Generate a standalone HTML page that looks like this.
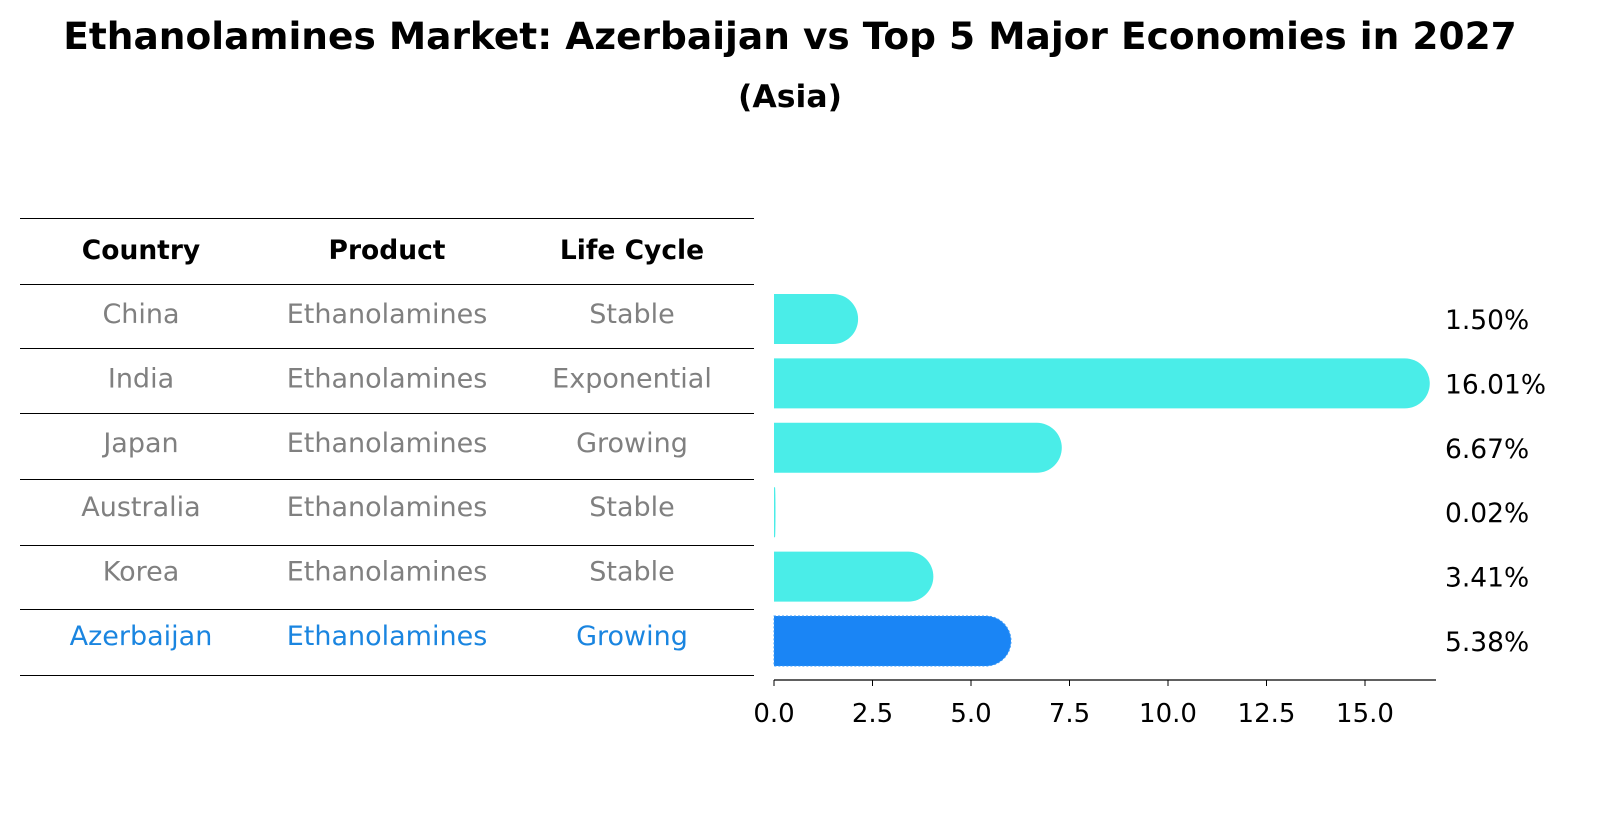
<!DOCTYPE html>
<html><head><meta charset="utf-8"><style>
body{margin:0;background:#fff;font-family:"Liberation Sans",sans-serif}
svg text{font-family:"DejaVu Sans","Liberation Sans",sans-serif}
</style></head><body>
<svg width="1604" height="823" xmlns="http://www.w3.org/2000/svg">
<text x="790" y="49" text-anchor="middle" font-size="37.5" font-weight="bold">Ethanolamines Market: Azerbaijan vs Top 5 Major Economies in 2027</text>
<text x="790" y="107" text-anchor="middle" font-size="31.5" font-weight="bold">(Asia)</text>
<g id="table"></g>
<g id="bars"></g>
</svg>
<script>
const countries=["China","India","Japan","Australia","Korea","Azerbaijan"];
const products=["Ethanolamines","Ethanolamines","Ethanolamines","Ethanolamines","Ethanolamines","Ethanolamines"];
const lifeCycles=["Stable","Exponential","Growing","Stable","Stable","Growing"];
const values=[1.50,16.01,6.67,0.02,3.41,5.38];
const valueLabels=["1.50%","16.01%","6.67%","0.02%","3.41%","5.38%"];
const ticks=[0,2.5,5,7.5,10,12.5,15];
const NS="http://www.w3.org/2000/svg";
function mk(t,a,p){const e=document.createElementNS(NS,t);for(const k in a)e.setAttribute(k,a[k]);p.appendChild(e);return e;}
const tb=document.getElementById('table');
const lineYs=[218,284,348,413,479,545,609,675];
lineYs.forEach(y=>{const l=mk('line',{x1:20,x2:754,y1:y+0.5,y2:y+0.5,stroke:'#000','stroke-width':1,'shape-rendering':'crispEdges'},tb);

});
const colX=[141,387,632];
["Country","Product","Life Cycle"].forEach((h,i)=>{const t=mk('text',{x:colX[i],y:259,'text-anchor':'middle','font-size':26.5,'font-weight':'bold'},tb);t.textContent=h;

});
const rowY=i=>319+i*64.4;
countries.forEach((c,i)=>{const col=c==="Azerbaijan"?'#1a85e0':'#808080';
[c,products[i],lifeCycles[i]].forEach((v,j)=>{const t=mk('text',{x:colX[j],y:rowY(i)+4,'text-anchor':'middle','font-size':27,fill:col},tb);t.textContent=v;

});});
const bg=document.getElementById('bars');
const x0=774,sc=39.4;const xs=v=>x0+v*sc;
values.forEach((v,i)=>{const y=rowY(i);const hl=countries[i]==="Azerbaijan";
const w=Math.max(xs(v)-x0,1);const col=hl?'#1a85f5':'#4aede8';
const rx=Math.min(25,w*0.5);
const p=mk('path',{d:`M${x0},${y-25}H${x0+w}A${rx},25 0 0 1 ${x0+w},${y+25}H${x0}Z`,fill:col},bg);
if(hl){p.setAttribute('stroke','#3a9af8');p.setAttribute('stroke-dasharray','2,2');}


const t=mk('text',{x:1445,y:y+10,'font-size':26.5},bg);t.textContent=valueLabels[i];

});
const ax=mk('line',{x1:x0,x2:1436,y1:680,y2:680,stroke:'#000','stroke-width':1.2},bg);


ticks.forEach(v=>{const l=mk('line',{x1:xs(v),x2:xs(v),y1:680,y2:686,stroke:'#000'},bg);


const t=mk('text',{x:xs(v),y:722,'text-anchor':'middle','font-size':26},bg);t.textContent=v.toFixed(1);

});
</script>
</body></html>
